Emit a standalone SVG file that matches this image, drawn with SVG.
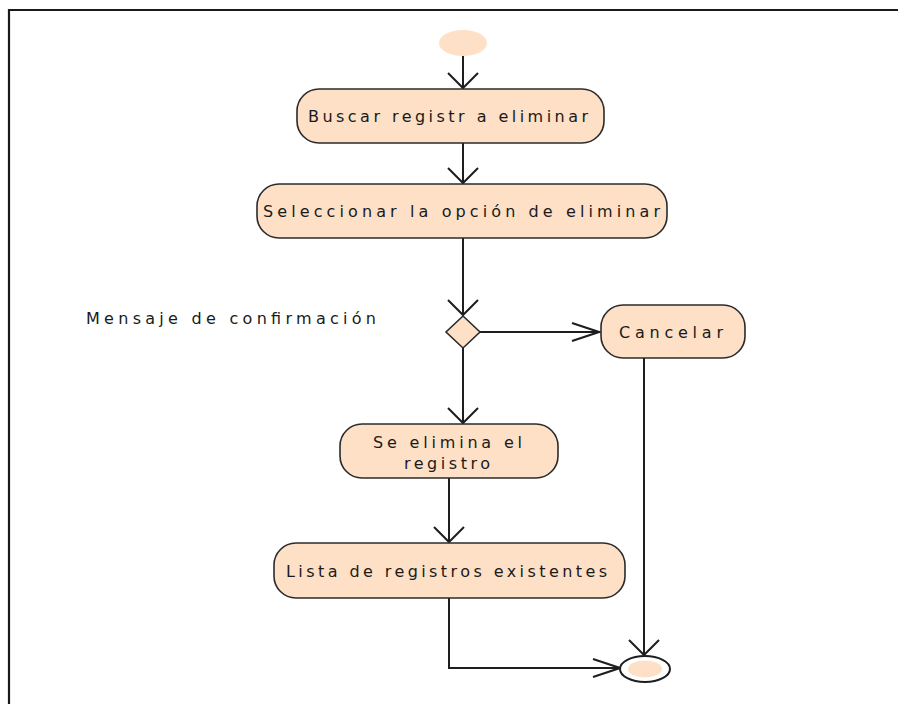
<svg xmlns="http://www.w3.org/2000/svg" width="898" height="704" viewBox="0 0 898 704">
  <style>
    .act { fill: #fde0c6; stroke: #2b2b2b; stroke-width: 1.6; }
    .lbl { font-family: "DejaVu Sans", "Liberation Sans", Arial, sans-serif; font-size: 16px; fill: #1a1a1a; }
    .flow { fill: none; stroke: #1e1e1e; stroke-width: 2; }
    .frame { fill: none; stroke: #1a1a1a; stroke-width: 2.2; }
  </style>
  <defs>
    <!-- open V head for vertical flows -->
    <marker id="headV" markerUnits="userSpaceOnUse" viewBox="-17 -17 19 34" markerWidth="19" markerHeight="34" refX="0" refY="0" orient="auto">
      <path d="M-15,-15 L0,0 L-15,15" fill="none" stroke="#1e1e1e" stroke-width="2"/>
    </marker>
    <!-- longer, narrower open head for horizontal flows -->
    <marker id="headH" markerUnits="userSpaceOnUse" viewBox="-30 -11 32 22" markerWidth="32" markerHeight="22" refX="0" refY="0" orient="auto">
      <path d="M-27,-9 L0,0 L-27,9" fill="none" stroke="#1e1e1e" stroke-width="2"/>
    </marker>
  </defs>

  <rect width="898" height="704" fill="#ffffff"/>
  <path class="frame" d="M9,704 V10 H898"/>

  <g id="connectors">
    <line class="flow" x1="463" y1="56" x2="463" y2="88" marker-end="url(#headV)"/>
    <line class="flow" x1="463" y1="143" x2="463" y2="183" marker-end="url(#headV)"/>
    <line class="flow" x1="463" y1="238" x2="463" y2="315" marker-end="url(#headV)"/>
    <line class="flow" x1="480" y1="332" x2="599" y2="332" marker-end="url(#headH)"/>
    <line class="flow" x1="463" y1="348" x2="463" y2="423" marker-end="url(#headV)"/>
    <line class="flow" x1="449" y1="478" x2="449" y2="542" marker-end="url(#headV)"/>
    <polyline class="flow" points="449,598 449,668 620,668" marker-end="url(#headH)"/>
    <line class="flow" x1="644" y1="358" x2="644" y2="655" marker-end="url(#headV)"/>
  </g>

  <g id="start">
    <ellipse cx="463" cy="43" rx="24" ry="13" fill="#fde0c6"/>
  </g>

  <g id="buscar">
    <rect class="act" x="297" y="89" width="307" height="54" rx="22" ry="22"/>
    <text class="lbl" x="308" y="122" textLength="280" lengthAdjust="spacing">Buscar registr a eliminar</text>
  </g>

  <g id="seleccionar">
    <rect class="act" x="257" y="184" width="410" height="54" rx="22" ry="22"/>
    <text class="lbl" x="263" y="217" textLength="397" lengthAdjust="spacing">Seleccionar la opción de eliminar</text>
  </g>

  <g id="decision">
    <polygon points="463,316 480,332 463,348 446,332" fill="#fde0c6" stroke="#2b2b2b" stroke-width="1.6"/>
    <text class="lbl" x="86" y="324" textLength="290" lengthAdjust="spacing">Mensaje de confirmación</text>
  </g>

  <g id="cancelar">
    <rect class="act" x="601" y="305" width="144" height="53" rx="22" ry="22"/>
    <text class="lbl" x="619" y="338" textLength="104" lengthAdjust="spacing">Cancelar</text>
  </g>

  <g id="eliminar">
    <rect class="act" x="340" y="424" width="218" height="54" rx="22" ry="22"/>
    <text class="lbl" x="373" y="448" textLength="149" lengthAdjust="spacing">Se elimina el</text>
    <text class="lbl" x="404" y="469" textLength="86" lengthAdjust="spacing">registro</text>
  </g>

  <g id="lista">
    <rect class="act" x="274" y="543" width="351" height="55" rx="22" ry="22"/>
    <text class="lbl" x="286" y="577" textLength="321" lengthAdjust="spacing">Lista de registros existentes</text>
  </g>

  <g id="end">
    <ellipse cx="645" cy="669" rx="25" ry="13" fill="#ffffff" stroke="#1e1e1e" stroke-width="2"/>
    <ellipse cx="645" cy="669" rx="17" ry="8.5" fill="#fde0c6"/>
  </g>
</svg>
